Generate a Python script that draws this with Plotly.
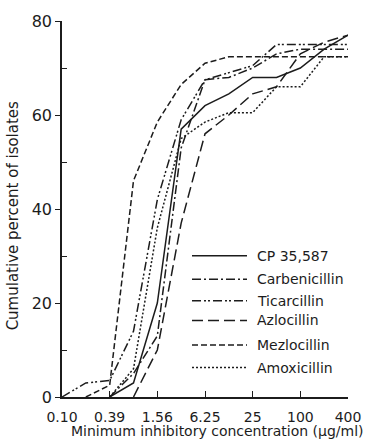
import plotly.graph_objects as go

# Twofold dilution series (µg/ml), 400 / 2^k
conc = [400 / 2 ** k for k in range(12, -1, -1)]

# Cumulative percent of isolates inhibited at each concentration
cp_35587 = [None, None, 0, 3, 20, 57, 62, 64.5, 68, 68, 70, 74, 77]
carbenicillin = [None, None, 0, 5, 13, 53, 67.5, 68, 70, 73, 74, 74, 74]
ticarcillin = [0, 3, 3.5, 14, 42, 59, 67.5, 69, 70.5, 75, 75, 75, 75]
azlocillin = [None, None, None, 0, 10, 37, 56, 60, 64.5, 66, 73, 75.5, 77]
mezlocillin = [None, 0, 2.5, 46, 58.5, 66.5, 71, 72.4, 72.4, 72.4, 72.4, 72.4, 72.4]
amoxicillin = [None, None, 0, 6, 36, 55, 58.5, 60.5, 60.5, 66, 66, 72.4, 72.4]

tick_vals = [400 / 4096, 400 / 1024, 400 / 256, 400 / 64, 400 / 16, 400 / 4, 400]
tick_text = ["0.10", "0.39", "1.56", "6.25", "25", "100", "400"]

names = ["CP 35,587", "Carbenicillin", "Ticarcillin", "Azlocillin", "Mezlocillin", "Amoxicillin"]
series = [cp_35587, carbenicillin, ticarcillin, azlocillin, mezlocillin, amoxicillin]
dashes = [
    "solid",
    "9px,3px,2px,3px",
    "9px,3px,2px,2px,2px,3px",
    "11px,5px",
    "6px,3px",
    "2px,2px",
]
# legend rows: vertical centre of each entry (pixels from top of the page)
legend_rows = [253, 277, 299, 319, 344, 367]

INK = "#1c1c1c"
L, R, T, B = 62, 33, 14, 47
W, H = 381, 444
pw, ph = W - L - R, H - T - B

fig = go.Figure()
for name, ys, dash in zip(names, series, dashes):
    fig.add_trace(go.Scatter(
        x=conc, y=ys, mode="lines", name=name,
        line=dict(color=INK, width=1.5, dash=dash),
        connectgaps=False, showlegend=False,
    ))

shapes = []
annotations = []
for name, dash, row in zip(names, dashes, legend_rows):
    yp = (H - B - row) / ph
    shapes.append(dict(
        type="line", xref="paper", yref="paper",
        x0=(192 - L) / pw, x1=(247 - L) / pw, y0=yp, y1=yp,
        line=dict(color=INK, width=1.5, dash=dash),
    ))
    annotations.append(dict(
        xref="paper", yref="paper", x=(255 - L) / pw, y=yp,
        xanchor="left", yanchor="middle", text=name, showarrow=False,
        font=dict(size=14, color=INK),
    ))

annotations.append(dict(
    xref="paper", yref="paper", x=(217 - L) / pw, y=(H - B - 432) / ph,
    xanchor="center", yanchor="middle", showarrow=False,
    text="Minimum inhibitory concentration (µg/ml)",
    font=dict(size=14, color=INK),
))
annotations.append(dict(
    xref="paper", yref="paper", x=(13 - L) / pw, y=(H - B - 213) / ph,
    xanchor="center", yanchor="middle", showarrow=False, textangle=-90,
    text="Cumulative percent of isolates",
    font=dict(size=15, color=INK),
))

fig.update_layout(
    width=W, height=H,
    margin=dict(l=L, r=R, t=T, b=B),
    paper_bgcolor="white", plot_bgcolor="white",
    font=dict(family="DejaVu Sans", color=INK),
    shapes=shapes, annotations=annotations,
    showlegend=False,
)
fig.update_xaxes(
    type="log",
    range=[-1.0103, 2.6021],
    tickvals=tick_vals, ticktext=tick_text,
    ticks="inside", ticklen=6, tickwidth=1.3, tickcolor=INK,
    ticklabelstandoff=6,
    showline=True, linecolor=INK, linewidth=1.5,
    showgrid=False, zeroline=False,
    tickfont=dict(size=14, color=INK),
)
fig.update_yaxes(
    range=[0, 80], tickvals=[0, 20, 40, 60, 80],
    ticks="outside", ticklen=5, tickwidth=1.3, tickcolor=INK,
    minor=dict(tickvals=[10, 30, 50, 70], ticks="inside", ticklen=5, tickwidth=1.3, tickcolor=INK),
    showline=True, linecolor=INK, linewidth=1.5,
    showgrid=False, zeroline=False,
    tickfont=dict(size=16, color=INK),
)

fig.write_html("out.html")
